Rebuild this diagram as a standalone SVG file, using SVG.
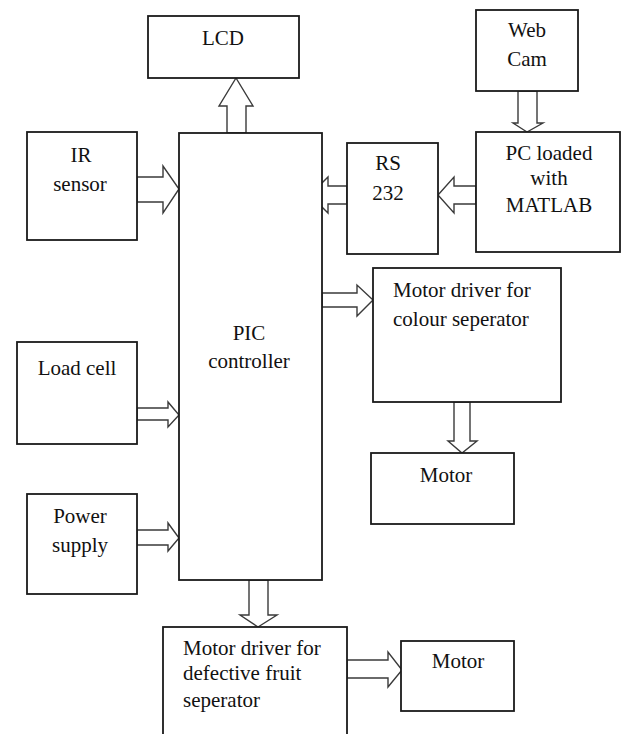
<svg xmlns="http://www.w3.org/2000/svg" width="622" height="734" viewBox="0 0 622 734">
<style>
.box{fill:#fff;stroke:#1a1a1a;stroke-width:1.8}
.arr{fill:#fff;stroke:#3a3a3a;stroke-width:1.4;stroke-linejoin:miter}
.t{font-family:'Liberation Serif','Times New Roman',Times,'DejaVu Serif',serif;font-size:21px;fill:#111}
.c{text-anchor:middle}
</style>
<rect width="622" height="734" fill="#fff"/>
<g id="connectors">
<polygon class="arr" points="227,133 227,106 219,106 236,78 253,106 246,106 246,133"/>
<polygon class="arr" points="137,177 163,177 163,166 179,189 163,213 163,202 137,202"/>
<polygon class="arr" points="137,408 168,408 168,402 179,415 168,427 168,420 137,420"/>
<polygon class="arr" points="137,530 168,530 168,523 179,538 168,551 168,545 137,545"/>
<polygon class="arr" points="476,186 454,186 454,177 438,195 454,213 454,204 476,204"/>
<polygon class="arr" points="347,186 328,186 328,177 310,195 328,213 328,204 347,204"/>
<polygon class="arr" points="322,293 357,293 357,285 373,300 357,316 357,307 322,307"/>
<polygon class="arr" points="454,402 454,441 448,441 462,453 477,441 470,441 470,402"/>
<polygon class="arr" points="518,91 518,123 513,123 527,132 543,123 537,123 537,91"/>
<polygon class="arr" points="249,580 249,615 240,615 258,627 277,615 268,615 268,580"/>
<polygon class="arr" points="347,660 388,660 388,652 402,670 388,687 388,678 347,678"/>
</g>
<g id="lcd"><rect class="box" x="148" y="16" width="151" height="62"/><text class="t c" x="223" y="45">LCD</text></g>
<g id="ir"><rect class="box" x="27" y="132" width="110" height="108"/><text class="t c" x="81" y="162">IR</text><text class="t c" x="80" y="191">sensor</text></g>
<g id="loadcell"><rect class="box" x="17" y="342" width="120" height="102"/><text class="t c" x="77" y="375">Load cell</text></g>
<g id="power"><rect class="box" x="27" y="494" width="110" height="100"/><text class="t c" x="80" y="523">Power</text><text class="t c" x="80" y="552">supply</text></g>
<g id="pic"><rect class="box" x="179" y="133" width="143" height="447"/><text class="t c" x="249" y="340">PIC</text><text class="t c" x="249" y="368">controller</text></g>
<g id="webcam"><rect class="box" x="476" y="10" width="102" height="81"/><text class="t c" x="527" y="37">Web</text><text class="t c" x="527" y="66">Cam</text></g>
<g id="pc"><rect class="box" x="476" y="132" width="144" height="120"/><text class="t c" x="549" y="160">PC loaded</text><text class="t c" x="549" y="185">with</text><text class="t c" x="549" y="212">MATLAB</text></g>
<g id="rs232"><rect class="box" x="347" y="143" width="91" height="111"/><text class="t c" x="388" y="170">RS</text><text class="t c" x="388" y="200">232</text></g>
<g id="mdcolour"><rect class="box" x="373" y="268" width="188" height="134"/><text class="t" x="393" y="297">Motor driver for</text><text class="t" x="393" y="326">colour seperator</text></g>
<g id="motor1"><rect class="box" x="371" y="453" width="143" height="71"/><text class="t c" x="446" y="482">Motor</text></g>
<g id="mddefective"><rect class="box" x="163" y="627" width="184" height="120"/><text class="t" x="183" y="655">Motor driver for</text><text class="t" x="183" y="680">defective fruit</text><text class="t" x="183" y="707">seperator</text></g>
<g id="motor2"><rect class="box" x="401" y="641" width="113" height="70"/><text class="t c" x="458" y="668">Motor</text></g>
</svg>
